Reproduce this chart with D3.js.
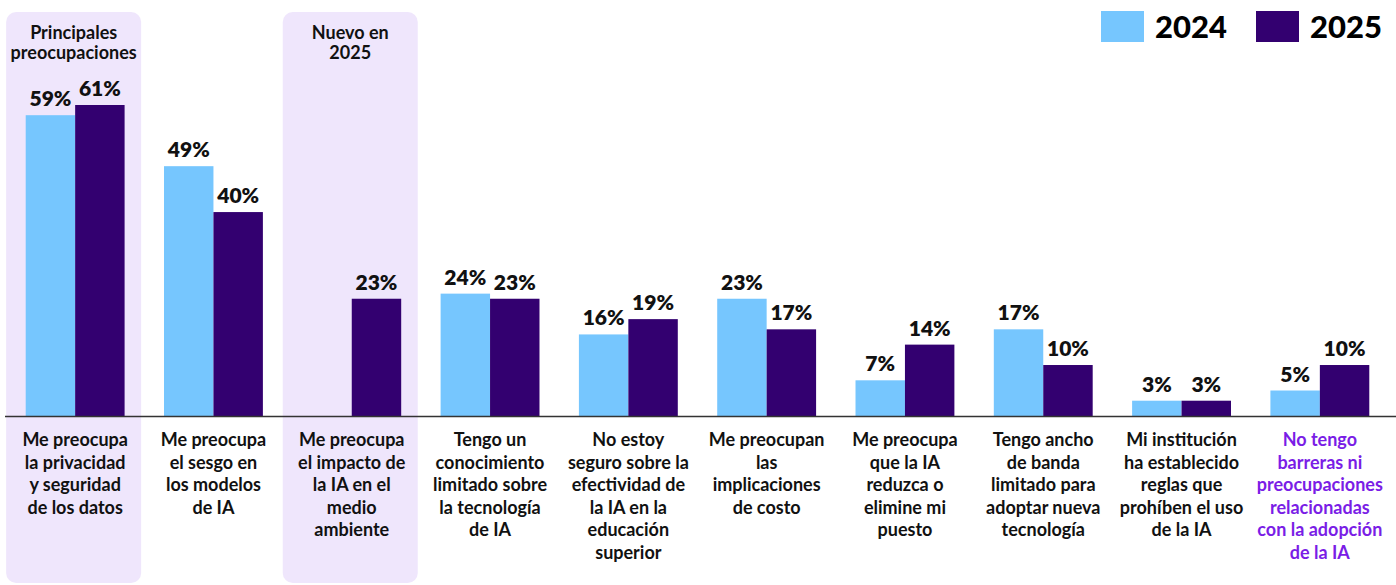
<!DOCTYPE html>
<html>
<head>
<meta charset="utf-8">
<script src="https://cdn.jsdelivr.net/npm/d3@7"></script>
<style>
body { margin: 0; background: #fff; }
svg { display: block; font-family: Lato, "Open Sans", sans-serif; }
</style>
</head>
<body>
<div id="chartdiv"></div>
<script>
// data
var categories = [
  ["Me preocupa", "la privacidad", "y seguridad", "de los datos"],
  ["Me preocupa", "el sesgo en", "los modelos", "de IA"],
  ["Me preocupa", "el impacto de", "la IA en el", "medio", "ambiente"],
  ["Tengo un", "conocimiento", "limitado sobre", "la tecnología", "de IA"],
  ["No estoy", "seguro sobre la", "efectividad de", "la IA en la", "educación", "superior"],
  ["Me preocupan", "las", "implicaciones", "de costo"],
  ["Me preocupa", "que la IA", "reduzca o", "elimine mi", "puesto"],
  ["Tengo ancho", "de banda", "limitado para", "adoptar nueva", "tecnología"],
  ["Mi institución", "ha establecido", "reglas que", "prohíben el uso", "de la IA"],
  ["No tengo", "barreras ni", "preocupaciones", "relacionadas", "con la adopción", "de la IA"]
];
var years = ["2024", "2025"];
var values2024 = [59, 49, null, 24, 16, 23, 7, 17, 3, 5];
var values2025 = [61, 40, 23, 23, 19, 17, 14, 10, 3, 10];
var highlights = [
  {index: 0, lines: ["Principales", "preocupaciones"]},
  {index: 2, lines: ["Nuevo en", "2025"]}
];
var colors = {"2024": "#76c6fe", "2025": "#330070"};

var corewidth = 1396, coreheight = 585;
var baseline = 416;

var svg = d3.select('#chartdiv')
  .append('svg')
  .attr('width', corewidth)
  .attr('height', coreheight);

var ids = categories.map(function(d, i) { return i; });

var x0 = d3.scaleBand().domain(ids).range([6, 1389]).paddingInner(0.285).paddingOuter(0.1425);
var x1 = d3.scaleBand().domain(years).range([0, x0.bandwidth()]);
var y = d3.scaleLinear().domain([0, 61]).range([baseline, 105]);

// highlight boxes
highlights.forEach(function(h) {
  var cx = x0(h.index) + x0.bandwidth() / 2;
  svg.append('rect')
    .attr('x', cx - 69)
    .attr('y', 12)
    .attr('width', 135)
    .attr('height', 571)
    .attr('rx', 10)
    .attr('fill', '#efe6fc');
  svg.append('text')
    .attr('x', cx - 1.5)
    .attr('y', 39)
    .attr('text-anchor', 'middle')
    .attr('font-size', '18px')
    .attr('font-weight', 700)
    .attr('fill', '#111')
    .selectAll('tspan')
    .data(h.lines)
    .enter().append('tspan')
    .attr('x', cx - 1.5)
    .attr('dy', function(d, i) { return i ? 20 : 0; })
    .text(function(d) { return d; });
});

// bars
var rows = [];
ids.forEach(function(i) {
  if (values2024[i] != null) rows.push({i: i, year: "2024", v: values2024[i]});
  if (values2025[i] != null) rows.push({i: i, year: "2025", v: values2025[i]});
});

svg.selectAll('.bar')
  .data(rows)
  .enter().append('rect')
  .attr('class', 'bar')
  .attr('x', function(d) { return x0(d.i) + x1(d.year); })
  .attr('width', x1.bandwidth())
  .attr('y', function(d) { return y(d.v); })
  .attr('height', function(d) { return baseline - y(d.v); })
  .attr('fill', function(d) { return colors[d.year]; });

svg.selectAll('.vlabel')
  .data(rows)
  .enter().append('text')
  .attr('class', 'vlabel')
  .attr('x', function(d) { return x0(d.i) + x1(d.year) + x1.bandwidth() / 2; })
  .attr('y', function(d) { return y(d.v) - 9; })
  .attr('text-anchor', 'middle')
  .attr('font-size', '21px')
  .attr('font-weight', 800)
  .attr('fill', '#111')
  .text(function(d) { return d.v + '%'; });

// axis line
svg.append('line')
  .attr('x1', 5).attr('x2', corewidth)
  .attr('y1', baseline + 0.5).attr('y2', baseline + 0.5)
  .attr('stroke', '#333')
  .attr('stroke-width', 1.5);

// category labels
ids.forEach(function(i) {
  var cx = x0(i) + x0.bandwidth() / 2;
  svg.append('text')
    .attr('x', cx)
    .attr('y', 446)
    .attr('text-anchor', 'middle')
    .attr('font-size', '18px')
    .attr('font-weight', 700)
    .attr('fill', i === 9 ? '#7a1de6' : '#111')
    .selectAll('tspan')
    .data(categories[i])
    .enter().append('tspan')
    .attr('x', cx)
    .attr('dy', function(d, k) { return k ? 22.5 : 0; })
    .text(function(d) { return d; });
});

// legend
var legend = svg.append('g');
var legendX = [1101, 1256];
years.forEach(function(yr, k) {
  legend.append('rect')
    .attr('x', legendX[k]).attr('y', 11)
    .attr('width', 43).attr('height', 31)
    .attr('fill', colors[yr]);
  legend.append('text')
    .attr('x', legendX[k] + 54).attr('y', 38)
    .attr('font-size', '31px')
    .attr('font-weight', 900)
    .attr('fill', '#000')
    .text(yr);
});
</script>
</body>
</html>
